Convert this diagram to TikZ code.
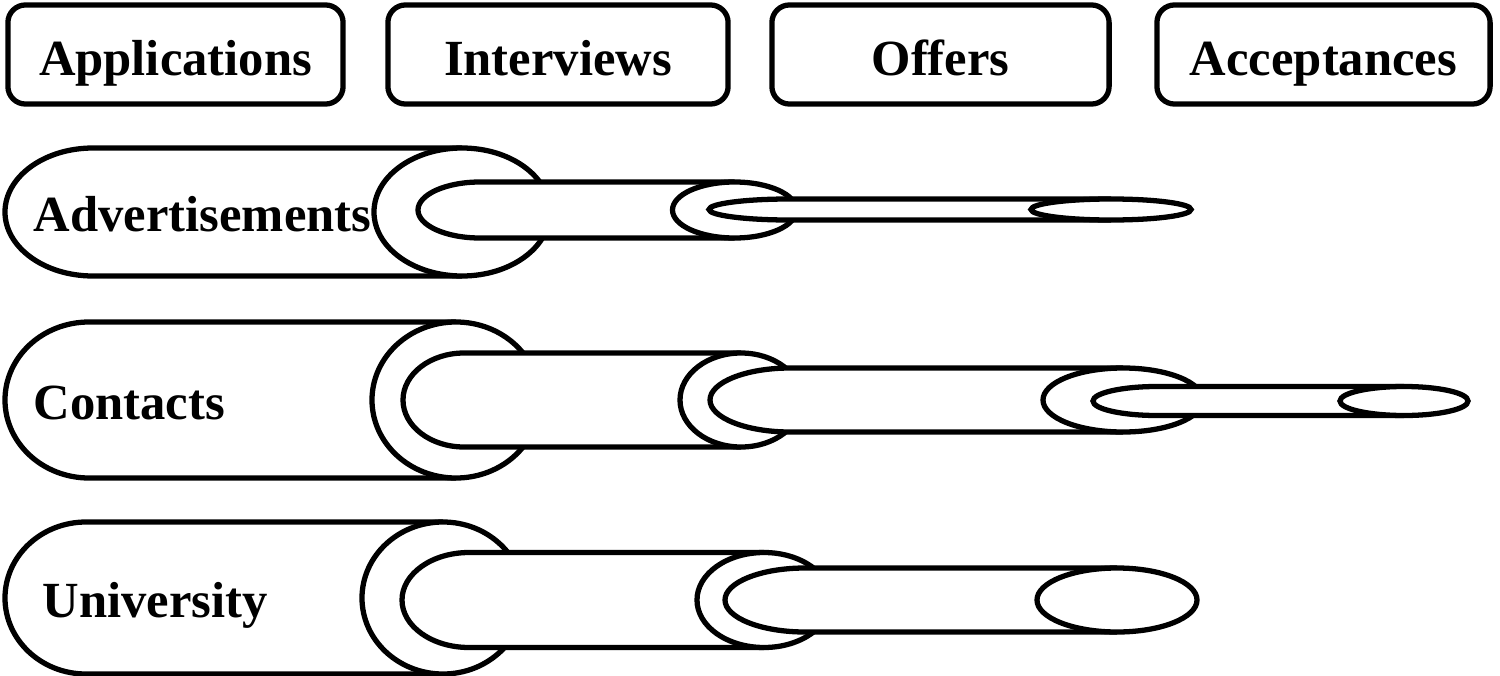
\documentclass[tikz,border=0pt]{standalone}
\usepackage{fontspec}
\setmainfont{Liberation Serif}
\usepackage{tikz}
\usetikzlibrary{positioning}

\tikzset{
  tube/.style={draw=black, fill=white, line width=1.5pt},
  stagebox/.style={draw=black, line width=1.5pt, rounded corners=5pt, inner sep=0pt,
    minimum height=0.99cm, text height=13pt, text depth=0.8pt,
    font=\fontsize{14.4}{17}\selectfont\bfseries},
  source/.style={inner sep=0pt, anchor=base west, font=\fontsize{14.4}{17}\selectfont\bfseries}
}

% #1 left centre, #2 right centre, #3 axis, #4 x radius, #5 y radius
\newcommand{\tube}[5]{%
  \filldraw[tube] (#2,#3+#5) -- (#1,#3+#5)
    arc[start angle=90, end angle=270, x radius=#4, y radius=#5] -- (#2,#3-#5);
  \filldraw[tube] (#2,#3) ellipse[x radius=#4, y radius=#5];
}

\begin{document}
\begin{tikzpicture}[x=0.01cm, y=0.01cm]
    \useasboundingbox (0,0) rectangle (1500,675);
    %
    \node[stagebox, minimum width=3.35cm] (applications) at (175.5,620.5) {Applications};
    \node[stagebox, minimum width=3.40cm] (interviews) at (558,620.5) {Interviews};
    \node[stagebox, minimum width=3.37cm] (offers) at (940.5,620.5) {Offers};
    \node[stagebox, minimum width=3.33cm] (acceptances) at (1323.5,620.5) {Acceptances};
    %
    % advertisements
    \tube{93}{462}{463}{88}{64}
    \tube{480}{734.5}{465}{62}{28}
    \tube{789}{1111}{465.5}{80}{10.5}
    \node[source] (adverts) at (33,444) {Advertisements};
    %
    % contacts
    \tube{89}{456}{275}{84}{78}
    \tube{464}{741}{275}{61}{47}
    \tube{790}{1123}{275}{80}{32}
    \tube{1157}{1404}{274}{64}{14.5}
    \node[source] (contacts) at (33,256) {Contacts};
    %
    % university
    \tube{86}{443}{77}{81}{76}
    \tube{469}{764}{75}{67}{47.5}
    \tube{805}{1117}{75}{80}{32}
    \node[source] (university) at (42,58) {University};
    %
\end{tikzpicture}
\end{document}
